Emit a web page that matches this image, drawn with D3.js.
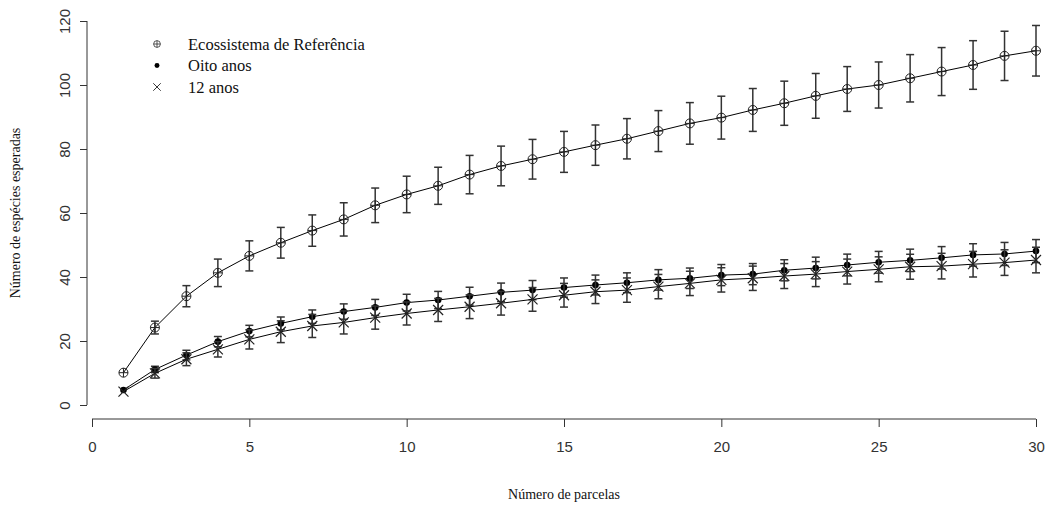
<!DOCTYPE html>
<html>
<head>
<meta charset="utf-8">
<script src="https://cdn.jsdelivr.net/npm/d3@7"></script>
<style>
  body { margin: 0; background: #fff; }
  .tick text { font-family: "Liberation Sans", Arial, sans-serif; font-size: 15px; fill: #333; }
  .axis path, .axis line { stroke: #333; }
  .lab { font-family: "Liberation Serif", "Times New Roman", serif; font-size: 14px; fill: #111; }
  .leg { font-family: "Liberation Serif", "Times New Roman", serif; font-size: 16.5px; fill: #111; }
</style>
</head>
<body>
<svg id="chart" width="1046" height="507"></svg>
<script>
var parcelas = d3.range(1, 31);
var xTicks = [0, 5, 10, 15, 20, 25, 30];
var yTicks = [0, 20, 40, 60, 80, 100, 120];

var referencia = [10.1, 24.2, 34, 41.3, 46.6, 50.7, 54.5, 58, 62.4, 65.8, 68.5, 72, 74.7, 76.8, 79.1,
  81.2, 83.2, 85.6, 88, 89.8, 92.2, 94.3, 96.6, 98.75, 100, 102.1, 104.2, 106.25, 109.1, 110.7];
var referenciaErr = [0, 2, 3.3, 4.3, 4.7, 4.8, 4.9, 5.2, 5.4, 5.7, 5.8, 6, 6.2, 6.2, 6.4,
  6.3, 6.3, 6.4, 6.5, 6.7, 6.7, 6.9, 7, 7, 7.2, 7.4, 7.5, 7.6, 7.7, 7.9];

var oitoAnos = [4.7, 11.1, 15.6, 19.8, 23.1, 25.5, 27.6, 29.2, 30.5, 32, 32.8, 34, 35.2, 35.9, 36.7,
  37.5, 38.2, 39.1, 39.6, 40.6, 40.9, 42.1, 42.8, 43.75, 44.6, 45.2, 46, 46.9, 47.2, 48.1];
var oitoErr = [0, 1, 1.5, 1.6, 1.8, 2, 2.1, 2.4, 2.5, 2.6, 2.7, 2.8, 2.9, 3, 3,
  3.1, 3.1, 3.2, 3.2, 3.3, 3.3, 3.3, 3.4, 3.4, 3.4, 3.5, 3.5, 3.5, 3.6, 3.6];

var dozeAnos = [4.2, 9.9, 14.3, 17.4, 20.5, 22.9, 24.7, 25.8, 27.3, 28.6, 29.7, 30.7, 31.8, 33, 34.3,
  35.4, 35.9, 37, 38, 39.1, 39.6, 40.3, 40.9, 41.7, 42.4, 43.2, 43.4, 44, 44.5, 45.3];
var dozeErr = [0, 1.5, 2, 2.4, 3, 3.4, 3.6, 3.6, 3.6, 3.6, 3.6, 3.7, 3.7, 3.7, 3.7,
  3.7, 3.8, 3.8, 3.8, 3.8, 3.8, 3.9, 3.9, 3.9, 3.9, 3.9, 4, 4, 4, 4];

var legendas = ["Ecossistema de Referência", "Oito anos", "12 anos"];

var svg = d3.select("#chart");
var x = d3.scaleLinear().domain([0, 30]).range([92, 1036]);
var y = d3.scaleLinear().domain([0, 120]).range([405, 21]);

// eixos no estilo R: separados do painel
svg.append("g")
  .attr("class", "axis")
  .attr("transform", "translate(0,419)")
  .call(d3.axisBottom(x).tickValues(xTicks).tickSize(8).tickPadding(14))
  .call(function(g) { g.select(".domain").attr("d", "M" + x(0) + ",0H" + x(30)); });

var yAxis = svg.append("g")
  .attr("class", "axis")
  .attr("transform", "translate(87,0)")
  .call(d3.axisLeft(y).tickValues(yTicks).tickSize(7))
  .call(function(g) { g.select(".domain").attr("d", "M0," + y(0) + "V" + y(120)); });

yAxis.selectAll(".tick text")
  .attr("x", 0).attr("dy", 0)
  .attr("text-anchor", "middle")
  .attr("transform", "translate(-17,0) rotate(-90)");

svg.append("text").attr("class", "lab")
  .attr("x", (x(0) + x(30)) / 2).attr("y", 499)
  .attr("text-anchor", "middle")
  .text("Número de parcelas");

svg.append("text").attr("class", "lab")
  .attr("transform", "translate(20," + (y(0) + y(120)) / 2 + ") rotate(-90)")
  .attr("text-anchor", "middle")
  .text("Número de espécies esperadas");

var series = [
  {values: referencia, err: referenciaErr, pch: "plus"},
  {values: oitoAnos, err: oitoErr, pch: "dot"},
  {values: dozeAnos, err: dozeErr, pch: "cross"}
];

var line = d3.line()
  .x(function(d) { return x(d.x); })
  .y(function(d) { return y(d.y); });

function drawSymbol(g, pch) {
  if (pch === "plus") {
    g.append("circle").attr("r", 4.5).attr("fill", "none").attr("stroke", "#222").attr("stroke-width", 1);
    g.append("path").attr("d", "M-4.5,0H4.5M0,-4.5V4.5").attr("stroke", "#222").attr("stroke-width", 1);
  } else if (pch === "dot") {
    g.append("circle").attr("r", 3.3).attr("fill", "#000");
  } else {
    g.append("path").attr("d", "M-5,-5L5,5M-5,5L5,-5").attr("stroke", "#222").attr("stroke-width", 1.2);
  }
}

series.forEach(function(s) {
  var pts = parcelas.map(function(p, i) { return {x: p, y: s.values[i], e: s.err[i]}; });

  svg.append("path")
    .datum(pts)
    .attr("fill", "none")
    .attr("stroke", "#000")
    .attr("stroke-width", 1)
    .attr("d", line);

  var bars = svg.append("g").selectAll("g")
    .data(pts.filter(function(d) { return d.e > 0; }))
    .enter().append("g")
    .attr("stroke", "#333")
    .attr("stroke-width", 1.5);

  bars.append("line")
    .attr("x1", function(d) { return x(d.x); }).attr("x2", function(d) { return x(d.x); })
    .attr("y1", function(d) { return y(d.y - d.e); }).attr("y2", function(d) { return y(d.y + d.e); });
  bars.append("line")
    .attr("x1", function(d) { return x(d.x) - 4; }).attr("x2", function(d) { return x(d.x) + 4; })
    .attr("y1", function(d) { return y(d.y + d.e); }).attr("y2", function(d) { return y(d.y + d.e); });
  bars.append("line")
    .attr("x1", function(d) { return x(d.x) - 4; }).attr("x2", function(d) { return x(d.x) + 4; })
    .attr("y1", function(d) { return y(d.y - d.e); }).attr("y2", function(d) { return y(d.y - d.e); });

  svg.append("g").selectAll("g")
    .data(pts)
    .enter().append("g")
    .attr("transform", function(d) { return "translate(" + x(d.x) + "," + y(d.y) + ")"; })
    .each(function() { drawSymbol(d3.select(this), s.pch); });
});

var legend = svg.selectAll(".legend")
  .data(legendas)
  .enter().append("g")
  .attr("class", "legend")
  .attr("transform", function(d, i) { return "translate(157," + (44 + i * 21.5) + ")"; });

legend.each(function(d, i) {
  var g = d3.select(this).append("g").attr("transform", "scale(0.75)");
  drawSymbol(g, series[i].pch);
});

legend.append("text")
  .attr("class", "leg")
  .attr("x", 31)
  .attr("y", 5.5)
  .text(function(d) { return d; });
</script>
</body>
</html>
